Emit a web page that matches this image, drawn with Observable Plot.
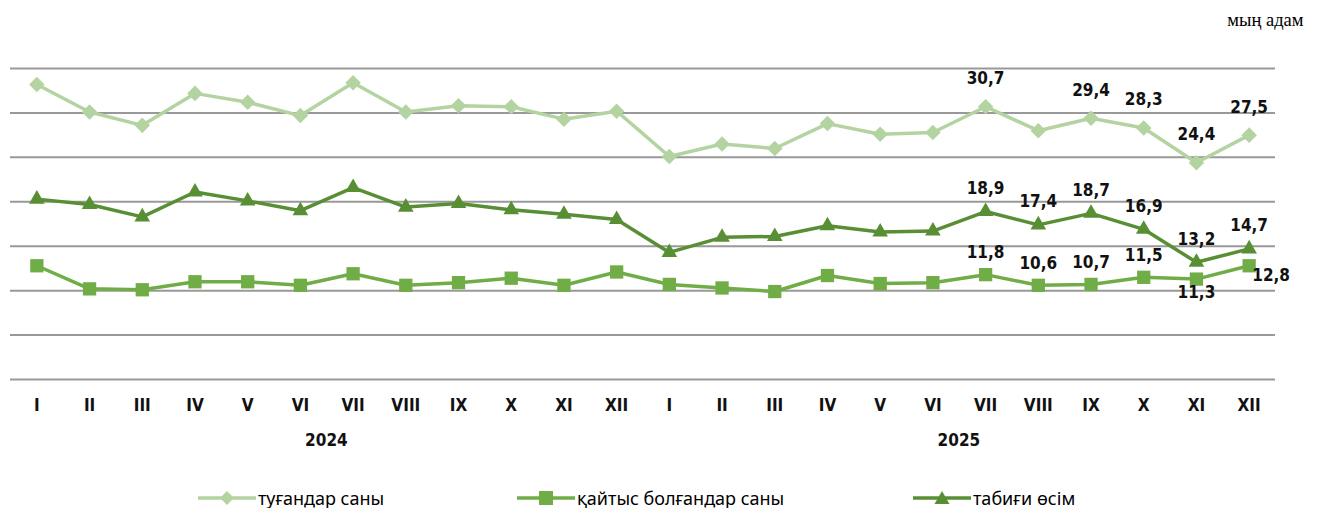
<!DOCTYPE html>
<html>
<head>
<meta charset="utf-8">
<script src="https://cdn.jsdelivr.net/npm/d3@7"></script>
<script src="https://cdn.jsdelivr.net/npm/@observablehq/plot@0.6"></script>
<style>
  body { margin: 0; background: #fff; }
  #wrap { position: relative; width: 1317px; height: 508px; }
  .leg { position: absolute; top: 486px; display: flex; align-items: center; font-family: "Noto Sans", sans-serif; font-size: 18px; color: #000; }
  .leg svg { margin-right: 2px; }
</style>
</head>
<body>
<div id="wrap"></div>
<script>
const months = ["I","II","III","IV","V","VI","VII","VIII","IX","X","XI","XII"];
const years = ["2024", "2025"];
const seriesNames = ["туғандар саны", "қайтыс болғандар саны", "табиғи өсім"];
const unitLabel = "мың адам";

const births2024 = [33.2, 30.1, 28.6, 32.2, 31.2, 29.7, 33.4, 30.1, 30.8, 30.7, 29.3, 30.2];
const births2025 = [25.1, 26.5, 26.0, 28.8, 27.6, 27.8, 30.7, 28.0, 29.4, 28.3, 24.4, 27.5];
const deaths2024 = [12.8, 10.2, 10.1, 11.0, 11.0, 10.6, 11.9, 10.6, 10.9, 11.4, 10.6, 12.1];
const deaths2025 = [10.7, 10.3, 9.9, 11.7, 10.8, 10.9, 11.8, 10.6, 10.7, 11.5, 11.3, 12.8];
const growth2024 = [20.3, 19.7, 18.3, 21.1, 20.1, 19.0, 21.6, 19.4, 19.8, 19.1, 18.6, 18.0];
const growth2025 = [14.3, 16.0, 16.1, 17.3, 16.6, 16.7, 18.9, 17.4, 18.7, 16.9, 13.2, 14.7];
const yTicks = [0, 5, 10, 15, 20, 25, 30, 35];

const colors = ["#b3d4a1", "#70ad47", "#588f34"];

const keys = years.flatMap(y => months.map(m => `${y}-${m}`));
function rows(a, b) {
  return [...a, ...b].map((v, i) => ({key: keys[i], value: v, i}));
}
const births = rows(births2024, births2025);
const deaths = rows(deaths2024, deaths2025);
const growth = rows(growth2024, growth2025);

const diamond = {
  draw(context, size) {
    const r = Math.sqrt(size / 2);
    context.moveTo(0, -r); context.lineTo(r, 0); context.lineTo(0, r); context.lineTo(-r, 0); context.closePath();
  }
};

const fmt = v => v.toFixed(1).replace(".", ",");
const labFont = "'Liberation Sans Narrow', 'DejaVu Sans Condensed', sans-serif";
const labStyle = {fontFamily: labFont, fontWeight: "bold", fontSize: 17, fill: "#111", letterSpacing: "1.5px"};

const chart = Plot.plot({
  width: 1317,
  height: 475,
  marginTop: 68,
  marginBottom: 96,
  marginLeft: 10,
  marginRight: 42,
  x: {type: "point", domain: keys, padding: 0.5, round: false, label: null},
  y: {domain: [0, 35], label: null},
  style: {fontFamily: labFont, background: "#fff"},
  marks: [
    Plot.ruleY(yTicks, {stroke: "#999", strokeWidth: 2}),
    Plot.axisX({tickSize: 0, tickPadding: 19, label: null, tickFormat: d => d.split("-")[1], fontFamily: labFont, fontWeight: "bold", fontSize: 17, fill: "#111", letterSpacing: "0.5px"}),
    Plot.axisY({ticks: [], label: null}),
    Plot.text(years, {x: y => `${y}-VI`, dx: 26, frameAnchor: "bottom", lineAnchor: "middle", dy: 61, text: d => d, ...labStyle}),
    Plot.text([unitLabel], {frameAnchor: "top-right", textAnchor: "end", lineAnchor: "middle", dx: 28, dy: -48, fontFamily: "'Liberation Serif', serif", fontSize: 18.5, fill: "#000"}),
    Plot.line(births, {x: "key", y: "value", stroke: colors[0], strokeWidth: 3.5}),
    Plot.dot(births, {x: "key", y: "value", symbol: diamond, r: 6.2, fill: colors[0], stroke: null}),
    Plot.line(growth, {x: "key", y: "value", stroke: colors[2], strokeWidth: 3.5}),
    Plot.dot(growth, {x: "key", y: "value", symbol: "triangle", r: 5.8, fill: colors[2], stroke: null}),
    Plot.line(deaths, {x: "key", y: "value", stroke: colors[1], strokeWidth: 3.5}),
    Plot.dot(deaths, {x: "key", y: "value", symbol: "square", r: 7.5, fill: colors[1], stroke: null}),
    Plot.text(births.filter(d => d.i >= 18 && d.i !== 19), {x: "key", y: "value", text: d => fmt(d.value), dy: -28, ...labStyle}),
    Plot.text(growth.filter(d => d.i >= 18), {x: "key", y: "value", text: d => fmt(d.value), dy: -23, ...labStyle}),
    Plot.text(deaths.filter(d => d.i >= 18 && d.i <= 21), {x: "key", y: "value", text: d => fmt(d.value), dy: -22, ...labStyle}),
    Plot.text(deaths.filter(d => d.i === 22), {x: "key", y: "value", text: d => fmt(d.value), dy: 13, ...labStyle}),
    Plot.text(deaths.filter(d => d.i === 23), {x: "key", y: "value", text: d => fmt(d.value), dx: 22, dy: 10, ...labStyle})
  ]
});

const wrap = document.getElementById("wrap");
wrap.appendChild(chart);

const legendPos = [198, 517, 913];
const legendSyms = ["diamond", "square", "triangle"];
seriesNames.forEach((name, k) => {
  const div = document.createElement("div");
  div.className = "leg";
  div.style.left = legendPos[k] + "px";
  const s = d3.create("svg").attr("width", 58).attr("height", 22);
  s.append("line").attr("x1", 0).attr("x2", 58).attr("y1", 11).attr("y2", 11).attr("stroke", colors[k]).attr("stroke-width", 3.5);
  if (legendSyms[k] === "diamond") {
    s.append("path").attr("d", "M29,4L36,11L29,18L22,11Z").attr("fill", colors[k]);
  } else if (legendSyms[k] === "square") {
    s.append("rect").attr("x", 22).attr("y", 4).attr("width", 14).attr("height", 14).attr("fill", colors[k]);
  } else {
    s.append("path").attr("d", "M29,4L36.5,17L21.5,17Z").attr("fill", colors[k]);
  }
  div.appendChild(s.node());
  const t = document.createElement("span");
  t.textContent = name;
  div.appendChild(t);
  wrap.appendChild(div);
});
</script>
</body>
</html>
